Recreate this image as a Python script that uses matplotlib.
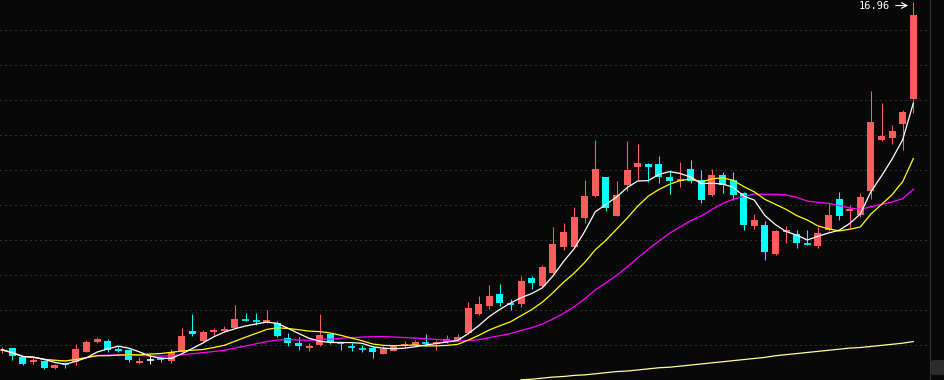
import matplotlib
matplotlib.use("Agg")
import matplotlib.pyplot as plt
import numpy as np
import pandas as pd
from matplotlib.patches import Rectangle, FancyBboxPatch
from matplotlib.lines import Line2D

# daily candles, oldest first
opens = [10.58, 10.63, 10.47, 10.38, 10.39, 10.27, 10.34, 10.38, 10.56, 10.75,
         10.76, 10.62, 10.60, 10.36, 10.41, 10.44, 10.40, 10.56, 10.94, 10.76,
         10.92, 10.94, 11.00, 11.16, 11.13, 11.10, 11.08, 10.81, 10.72, 10.63,
         10.68, 10.89, 10.74, 10.66, 10.63, 10.64, 10.53, 10.58, 10.66, 10.69,
         10.73, 10.70, 10.74, 10.78, 10.90, 11.25, 11.40, 11.62, 11.45, 11.44,
         11.91, 11.77, 12.00, 12.48, 12.48, 13.01, 13.41, 13.76, 13.05, 13.61,
         13.94, 14.00, 14.00, 13.76, 13.68, 13.91, 13.71, 13.43, 13.80, 13.71,
         13.47, 12.86, 12.88, 12.36, 12.76, 12.71, 12.54, 12.49, 12.79, 13.35,
         13.13, 13.07, 13.51, 14.43, 14.48, 14.73, 15.19]
highs = [10.65, 10.64, 10.48, 10.45, 10.41, 10.34, 10.38, 10.70, 10.78, 10.83,
         10.80, 10.67, 10.62, 10.47, 10.53, 10.47, 10.61, 11.00, 11.25, 10.96,
         11.00, 11.03, 11.42, 11.28, 11.27, 11.33, 11.12, 10.90, 10.84, 10.72,
         11.25, 10.91, 10.75, 10.72, 10.69, 10.66, 10.66, 10.69, 10.76, 10.77,
         10.89, 10.77, 10.87, 10.89, 11.47, 11.58, 11.78, 11.80, 11.52, 11.95,
         11.95, 12.15, 12.85, 12.92, 13.21, 13.71, 14.44, 13.77, 13.69, 14.42,
         14.36, 14.01, 14.15, 13.89, 14.04, 14.07, 13.89, 13.91, 13.85, 13.85,
         13.48, 13.08, 12.96, 12.79, 12.86, 12.80, 12.80, 12.85, 13.28, 13.49,
         13.24, 13.46, 15.33, 15.11, 14.71, 14.99, 16.96]
lows = [10.54, 10.42, 10.32, 10.33, 10.25, 10.25, 10.27, 10.32, 10.55, 10.72,
        10.55, 10.55, 10.38, 10.34, 10.34, 10.38, 10.36, 10.55, 10.86, 10.74,
        10.87, 10.92, 10.99, 11.13, 11.06, 11.08, 10.84, 10.66, 10.60, 10.57,
        10.66, 10.70, 10.60, 10.58, 10.55, 10.44, 10.52, 10.57, 10.64, 10.68,
        10.66, 10.60, 10.72, 10.76, 10.89, 11.24, 11.35, 11.40, 11.33, 11.39,
        11.71, 11.75, 11.99, 12.43, 12.47, 12.92, 13.40, 13.14, 13.04, 13.50,
        13.71, 13.67, 13.66, 13.45, 13.58, 13.66, 13.29, 13.42, 13.47, 13.34,
        12.79, 12.81, 12.25, 12.34, 12.55, 12.47, 12.52, 12.46, 12.78, 12.97,
        12.83, 13.02, 13.36, 14.42, 14.36, 14.26, 14.93]
closes = [10.60, 10.49, 10.34, 10.42, 10.27, 10.32, 10.32, 10.61, 10.74, 10.80,
          10.60, 10.58, 10.42, 10.40, 10.41, 10.42, 10.55, 10.85, 10.89, 10.92,
          10.97, 10.98, 11.16, 11.14, 11.11, 11.14, 10.86, 10.72, 10.66, 10.67,
          10.87, 10.74, 10.72, 10.65, 10.61, 10.55, 10.61, 10.67, 10.70, 10.74,
          10.71, 10.75, 10.80, 10.84, 11.37, 11.44, 11.59, 11.45, 11.42, 11.86,
          11.82, 12.11, 12.53, 12.75, 13.03, 13.41, 13.91, 13.19, 13.43, 13.89,
          14.02, 13.94, 13.76, 13.69, 13.72, 13.69, 13.34, 13.80, 13.61, 13.43,
          12.88, 12.97, 12.39, 12.77, 12.80, 12.56, 12.52, 12.73, 13.07, 13.05,
          13.18, 13.39, 14.77, 14.51, 14.60, 14.95, 16.73]

# long-term average (only the visible part, from candle 49 on)
long_ma_start = 49
long_ma = [10.05, 10.06, 10.08, 10.10, 10.11, 10.13, 10.14, 10.16, 10.18, 10.20,
           10.21, 10.23, 10.25, 10.27, 10.28, 10.30, 10.32, 10.34, 10.36, 10.38,
           10.40, 10.42, 10.44, 10.46, 10.49, 10.51, 10.53, 10.55, 10.57, 10.59,
           10.61, 10.63, 10.64, 10.66, 10.68, 10.70, 10.72, 10.75]

high_label = "16.96"

bg = "#080808"
up_col = "#ff5c5c"
down_col = "#00ffff"

W, H = 944, 380
fig = plt.figure(figsize=(W / 100, H / 100), dpi=100, facecolor=bg)
ax = fig.add_axes([0, 0, 929 / W, 1])
ax.set_facecolor(bg)
ax.set_axis_off()

n = len(closes)
x = np.arange(n)
ax.set_xlim(-0.16, 87.48)
top, bottom = 17.0, 17.0 - 380 * 0.0183
ax.set_ylim(bottom, top)

# dotted grid, every 35 px starting 30 px from the top
step = (top - bottom) / H
for k in range(11):
    ax.axhline(top - (30 + 35 * k) * step, color="#5a5a5a", lw=0.72,
               ls=(0, (1, 4)), zorder=0)

bw = 0.66
for i in range(n):
    o, h, l, c = opens[i], highs[i], lows[i], closes[i]
    if c > o:
        col = up_col
    elif c < o:
        col = down_col
    else:
        col = "white"
    ax.vlines(i, l, h, color=col, lw=0.75, zorder=2)
    if abs(c - o) < 0.025:
        ax.hlines((o + c) / 2, i - bw / 2, i + bw / 2, color=col, lw=1.2, zorder=2)
    else:
        ax.add_patch(Rectangle((i - bw / 2, min(o, c)), bw, abs(c - o),
                               facecolor=col, edgecolor="none", zorder=2))

s = pd.Series(closes)
ax.plot(x, s.rolling(20, min_periods=1).mean(), color="#ff00ff", lw=0.9, zorder=3)
ax.plot(x, s.rolling(10, min_periods=1).mean(), color="#ffff00", lw=0.9, zorder=3)
ax.plot(x, s.rolling(5, min_periods=1).mean(), color="white", lw=0.9, zorder=4)
ax.plot(np.arange(long_ma_start, long_ma_start + len(long_ma)), long_ma,
        color="#ffff99", lw=0.9, zorder=3)

# max price marker
fig.text(890 / W, 1 - 9 / H, high_label, color="white", fontsize=7.5,
         family="DejaVu Sans Mono", ha="right", va="baseline")
ax.annotate("", xy=(911, H - 5.5), xytext=(893, H - 5.5), xycoords="figure pixels",
            textcoords="figure pixels",
            arrowprops=dict(arrowstyle="->", color="white", lw=0.8))

fig.add_artist(Line2D([929.5 / W] * 2, [0, 1], color="#333333", lw=0.8))
fig.add_artist(FancyBboxPatch((931 / W, 5 / H), 14 / W, 15 / H,
                              boxstyle="round,pad=0,rounding_size=0.004",
                              facecolor="#2b2b2b", edgecolor="none"))

fig.savefig("out.png", dpi=100, facecolor=bg)
